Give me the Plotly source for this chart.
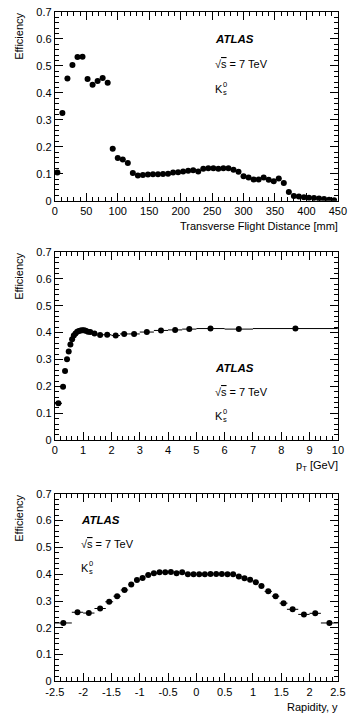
import plotly.graph_objects as go

# ---------------- data ----------------
# Panel 1: efficiency vs transverse flight distance (8 mm bins)
dist_mm = [4, 12, 20, 28, 36, 44, 52, 60, 68, 76, 84, 92, 100, 108, 116, 124, 132, 140, 148, 156,
           164, 172, 180, 188, 196, 204, 212, 220, 228, 236, 244, 252, 260, 268, 276, 284, 292, 300,
           308, 316, 324, 332, 340, 348, 356, 364, 372, 380, 388, 396, 404, 412, 420, 428, 436, 444]
eff_dist = [0.105, 0.325, 0.453, 0.503, 0.533, 0.534, 0.451, 0.430, 0.444, 0.455, 0.437, 0.193,
            0.158, 0.153, 0.140, 0.103, 0.094, 0.095, 0.097, 0.098, 0.098, 0.099, 0.100, 0.105,
            0.106, 0.108, 0.111, 0.113, 0.108, 0.119, 0.120, 0.120, 0.119, 0.120, 0.120, 0.115,
            0.107, 0.091, 0.086, 0.079, 0.079, 0.086, 0.078, 0.072, 0.082, 0.066, 0.032, 0.018,
            0.016, 0.013, 0.011, 0.010, 0.008, 0.006, 0.004, 0.002]
dist_halfwidth = [4] * len(dist_mm)

# Panel 2: efficiency vs pT
pt_gev = [0.125, 0.29, 0.36, 0.43, 0.49, 0.55, 0.61, 0.67, 0.73, 0.79, 0.85, 0.91, 0.97, 1.03,
          1.09, 1.17, 1.25, 1.4, 1.6, 1.85, 2.15, 2.45, 2.8, 3.25, 3.75, 4.25, 4.75, 5.5, 6.5, 8.5]
eff_pt = [0.137, 0.199, 0.257, 0.301, 0.330, 0.356, 0.375, 0.389, 0.397, 0.403, 0.406, 0.408,
          0.409, 0.409, 0.407, 0.403, 0.402, 0.397, 0.391, 0.392, 0.389, 0.395, 0.395, 0.402,
          0.408, 0.410, 0.413, 0.415, 0.413, 0.415]
pt_halfwidth = [0.125, 0.035, 0.035, 0.03, 0.03, 0.03, 0.03, 0.03, 0.03, 0.03, 0.03, 0.03, 0.03,
                0.03, 0.03, 0.04, 0.05, 0.1, 0.1, 0.15, 0.15, 0.15, 0.2, 0.25, 0.25, 0.25, 0.25,
                0.5, 0.5, 1.5]

# Panel 3: efficiency vs rapidity
rapidity = [-2.35, -2.1, -1.9, -1.7, -1.54, -1.4, -1.27, -1.15, -1.05, -0.95, -0.85, -0.75,
            -0.65, -0.55, -0.45, -0.35, -0.25, -0.15, -0.05, 0.05, 0.15, 0.25, 0.35, 0.45, 0.55, 0.65,
            0.75, 0.85, 0.95, 1.05, 1.15, 1.27, 1.4, 1.54, 1.7, 1.9, 2.1, 2.35]
eff_rap = [0.218, 0.258, 0.255, 0.272, 0.297, 0.318, 0.341, 0.362, 0.378, 0.386, 0.397, 0.404,
           0.407, 0.407, 0.408, 0.404, 0.407, 0.400, 0.400, 0.400, 0.400, 0.401, 0.401, 0.401,
           0.400, 0.400, 0.391, 0.385, 0.379, 0.370, 0.356, 0.336, 0.318, 0.292, 0.269, 0.250,
           0.254, 0.218]
rap_halfwidth = [0.15, 0.1, 0.1, 0.1, 0.07, 0.065, 0.065, 0.05, 0.05, 0.05, 0.05, 0.05,
                 0.05, 0.05, 0.05, 0.05, 0.05, 0.05, 0.05, 0.05, 0.05, 0.05, 0.05, 0.05, 0.05, 0.05,
                 0.05, 0.05, 0.05, 0.05, 0.05, 0.065, 0.065, 0.07, 0.1, 0.1, 0.1, 0.15]

y_ticks = [0, 0.1, 0.2, 0.3, 0.4, 0.5, 0.6, 0.7]
y_ticktext = ["0", "0.1", "0.2", "0.3", "0.4", "0.5", "0.6", "0.7"]
rap_ticks = [-2.5, -2, -1.5, -1, -0.5, 0, 0.5, 1, 1.5, 2, 2.5]
rap_ticktext = ["-2.5", "-2", "-1.5", "-1", "-0.5", "0", "0.5", "1", "1.5", "2", "2.5"]

# ---------------- figure ----------------
W, H = 354, 728
FONT = "Liberation Sans"
XL, XR = 48.3, 346.5
panels = [(6, 198), (250, 441.5), (496, 686.7)]  # pixel top/bottom of each plot area


def ydom(top, bot):
    return [1 - bot / H, 1 - top / H]


fig = go.Figure()
marker = dict(color="black", size=6, symbol="circle")
errx = lambda a: dict(type="data", array=a, symmetric=True, width=0, thickness=1, color="black")

fig.add_trace(go.Scatter(x=dist_mm, y=eff_dist, mode="markers", marker=marker,
                         error_x=errx(dist_halfwidth), xaxis="x", yaxis="y"))
fig.add_trace(go.Scatter(x=pt_gev, y=eff_pt, mode="markers", marker=marker,
                         error_x=errx(pt_halfwidth), xaxis="x2", yaxis="y2"))
fig.add_trace(go.Scatter(x=rapidity, y=eff_rap, mode="markers", marker=marker,
                         error_x=errx(rap_halfwidth), xaxis="x3", yaxis="y3"))


def axis_common(minor_dtick):
    return dict(showline=True, linecolor="black", linewidth=1, mirror="allticks",
                ticks="inside", ticklen=8, tickwidth=1, tickcolor="black",
                showgrid=False, zeroline=False,
                tickfont=dict(family=FONT, size=11, color="black"),
                minor=dict(ticks="inside", ticklen=4, tickwidth=1, tickcolor="black",
                           dtick=minor_dtick, showgrid=False))


xdom = [XL / W, XR / W]
layout = dict(width=W, height=H, margin=dict(l=0, r=0, t=0, b=0),
              paper_bgcolor="white", plot_bgcolor="white", showlegend=False)

layout["xaxis"] = dict(axis_common(10), domain=xdom, range=[0, 450], dtick=50, tick0=0, anchor="y")
layout["xaxis2"] = dict(axis_common(0.2), domain=xdom, range=[0, 10], dtick=1, tick0=0, anchor="y2")
layout["xaxis3"] = dict(axis_common(0.1), domain=xdom, range=[-2.5, 2.5],
                        tickvals=rap_ticks, ticktext=rap_ticktext, anchor="y3")
for i, (t, b) in enumerate(panels):
    key = "yaxis" if i == 0 else f"yaxis{i+1}"
    layout[key] = dict(axis_common(0.02), domain=ydom(t, b), range=[0, 0.7],
                       tickvals=y_ticks, ticktext=y_ticktext,
                       anchor="x" if i == 0 else f"x{i+1}")

fig.update_layout(**layout)

# ---------------- text ----------------
def px(x):
    return x / W


def py(y):
    return 1 - y / H


ann = []
tf = dict(family=FONT, size=11, color="black")
xtitles = ["Transverse Flight Distance [mm]", "p<sub>T</sub> [GeV]", "Rapidity, y"]
xtitle_y = [224, 468, 713]
for i, (t, b) in enumerate(panels):
    ann.append(dict(text="Efficiency", x=px(11), y=py(t - 1), xref="paper", yref="paper",
                    textangle=-90, xanchor="center", yanchor="top", showarrow=False, font=tf))
    ann.append(dict(text=xtitles[i], x=px(349), y=py(xtitle_y[i]), xref="paper", yref="paper",
                    xanchor="right", yanchor="middle", showarrow=False, font=tf))

label_pos = [(215, 33.5, 59, 84), (215, 368, 392, 416.5), (74, 522.5, 547.5, 571)]
for (lx, ya, ys, yk) in label_pos:
    ann.append(dict(text="<b><i>ATLAS</i></b>", x=px(lx), y=py(ya), xref="paper", yref="paper",
                    xanchor="left", yanchor="middle", showarrow=False,
                    font=dict(family=FONT, size=11.5, color="black")))
    ann.append(dict(text="√<span style='text-decoration:overline'>s</span> = 7 TeV",
                    x=px(lx), y=py(ys), xref="paper", yref="paper",
                    xanchor="left", yanchor="middle", showarrow=False, font=tf))
    ann.append(dict(text="K", x=px(lx), y=py(yk), xref="paper", yref="paper",
                    xanchor="left", yanchor="middle", showarrow=False, font=tf))
    ann.append(dict(text="0", x=px(lx + 8.5), y=py(yk - 4), xref="paper", yref="paper",
                    xanchor="left", yanchor="middle", showarrow=False,
                    font=dict(family=FONT, size=7.5, color="black")))
    ann.append(dict(text="s", x=px(lx + 8.5), y=py(yk + 3.5), xref="paper", yref="paper",
                    xanchor="left", yanchor="middle", showarrow=False,
                    font=dict(family=FONT, size=7.5, color="black")))

fig.update_layout(annotations=ann)
fig.write_html("out.html")
